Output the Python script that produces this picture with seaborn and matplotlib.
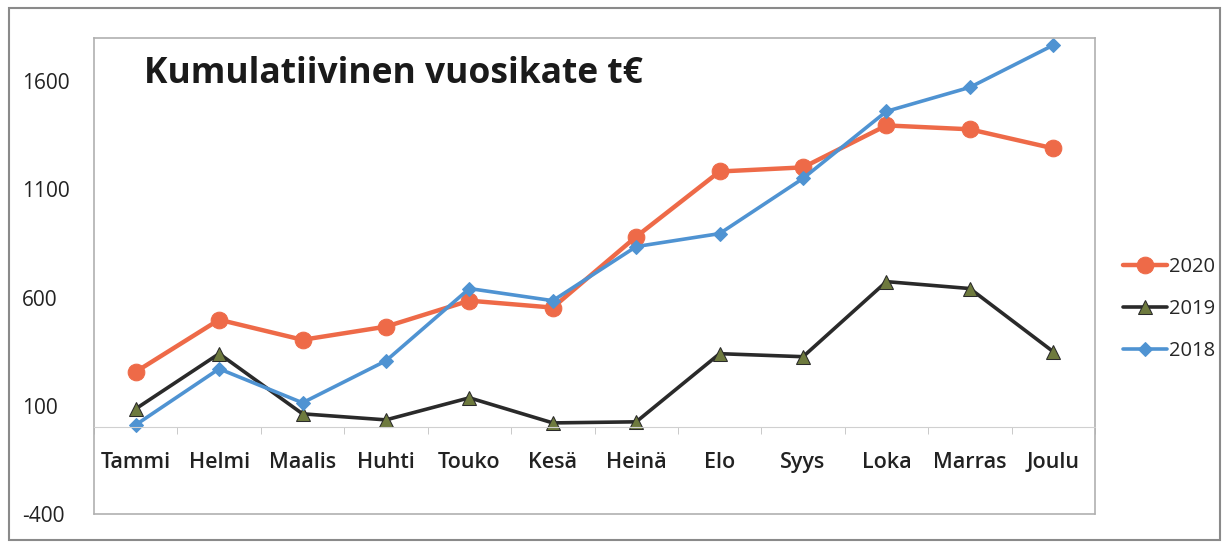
import matplotlib
matplotlib.use("Agg")
import matplotlib.pyplot as plt
from matplotlib.patches import Rectangle
import pandas as pd
import seaborn as sns

months = ["Tammi", "Helmi", "Maalis", "Huhti", "Touko", "Kesä",
          "Heinä", "Elo", "Syys", "Loka", "Marras", "Joulu"]
v2020 = [257, 498, 405, 466, 586, 554, 882, 1183, 1202, 1396, 1378, 1290]
v2019 = [86, 341, 63, 35, 137, 21, 26, 341, 327, 674, 642, 350]
v2018 = [12, 271, 114, 308, 642, 586, 836, 896, 1151, 1461, 1572, 1767]
years = ["2020", "2019", "2018"]
yticks = [-400, 100, 600, 1100, 1600]

rows = []
for year, vals in zip(years, [v2020, v2019, v2018]):
    for i, (m, v) in enumerate(zip(months, vals)):
        rows.append({"kk": i, "kuukausi": m, "vuosi": year, "arvo": v})
df = pd.DataFrame(rows)

sns.set_style("white")
plt.rcParams["font.family"] = ["Open Sans", "DejaVu Sans"]
plt.rcParams["axes.unicode_minus"] = False

fig = plt.figure(figsize=(12.28, 5.46), dpi=100)
ax = fig.add_axes([94 / 1228, 32 / 546, (1095 - 94) / 1228, (546 - 38 - 32) / 546])

palette = {"2020": "#EE6A48", "2019": "#2a2a2a", "2018": "#4F93D2"}
styles = {
    "2020": dict(marker="o", ms=12, mfc="#EE6A48", mec="#EE6A48", lw=3.2),
    "2019": dict(marker="^", ms=10, mfc="#6E7A3E", mec="#2a2a2a", lw=2.6),
    "2018": dict(marker="D", ms=7, mfc="#4F93D2", mec="#4F93D2", lw=2.6),
}
for year in years:
    sub = df[df["vuosi"] == year]
    sns.lineplot(data=sub, x="kk", y="arvo", color=palette[year], ax=ax,
                 label=year, **styles[year])

ax.set_xlim(-0.5, 11.5)
ax.set_ylim(-400, 1800)
ax.set_xlabel("")
ax.set_ylabel("")

# x axis at zero with boundary tick marks
ax.spines["bottom"].set_position(("data", 0))
ax.spines["bottom"].set_color("#d0d0d0")
for s in ["left", "top", "right"]:
    ax.spines[s].set_color("#b0b0b0")
    ax.spines[s].set_linewidth(1.2)
ax.axhline(-400, color="#b0b0b0", lw=1.2, clip_on=False)
ax.set_xticks(range(12))
ax.set_xticklabels(months, fontsize=15.5, fontweight="semibold", color="#222222")
ax.set_xticks([i - 0.5 for i in range(13)], minor=True)
ax.tick_params(axis="x", which="major", length=0, pad=18)
ax.tick_params(axis="x", which="minor", length=5, color="#c0c0c0", direction="out", bottom=True)

ax.set_yticks(yticks)
ax.tick_params(axis="y", length=0, pad=52, labelsize=15, labelcolor="#222222")
for lab in ax.get_yticklabels():
    lab.set_ha("left")

ax.text(0.05, 0.925, "Kumulatiivinen vuosikate t€", transform=ax.transAxes,
        fontsize=25.5, fontweight="bold", color="#1a1a1a", va="center")

ax.legend(loc="center left", bbox_to_anchor=(1.01, 0.43), frameon=False,
          fontsize=14.5, handlelength=2.2, handletextpad=0.1, labelspacing=1.1)

# outer frame
fig.patches.append(Rectangle((9 / 1228, 6 / 546), 1211 / 1228, 532 / 546,
                             transform=fig.transFigure, fill=False,
                             edgecolor="#8a8a8a", lw=1.5))

fig.savefig("out.png", dpi=100)
